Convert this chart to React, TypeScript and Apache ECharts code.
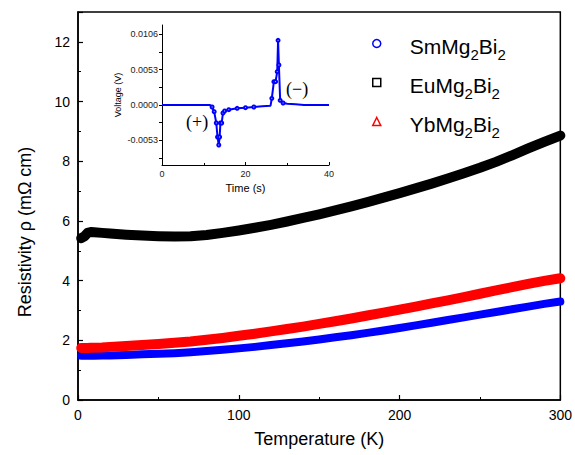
import React, { useEffect, useRef } from "react";
import * as echarts from "echarts";

const temperature = [2, 4, 6, 8, 10, 15, 20, 30, 40, 50, 60, 70, 80, 90, 100, 110, 120, 130, 140, 150, 160, 170, 180, 190, 200, 210, 220, 230, 240, 250, 260, 270, 280, 290, 300];
const smValues = [1.48, 1.48, 1.48, 1.48, 1.48, 1.49, 1.49, 1.51, 1.53, 1.55, 1.57, 1.6, 1.64, 1.68, 1.73, 1.78, 1.84, 1.9, 1.96, 2.03, 2.1, 2.17, 2.25, 2.33, 2.41, 2.5, 2.59, 2.68, 2.77, 2.86, 2.95, 3.04, 3.13, 3.22, 3.3];
const euValues = [5.42, 5.48, 5.6, 5.63, 5.62, 5.6, 5.58, 5.54, 5.51, 5.49, 5.48, 5.49, 5.53, 5.6, 5.68, 5.77, 5.87, 5.98, 6.1, 6.22, 6.35, 6.49, 6.63, 6.78, 6.93, 7.09, 7.25, 7.42, 7.6, 7.78, 7.98, 8.2, 8.43, 8.65, 8.86];
const ybValues = [1.74, 1.74, 1.74, 1.75, 1.75, 1.76, 1.78, 1.81, 1.84, 1.88, 1.92, 1.96, 2.02, 2.08, 2.15, 2.22, 2.3, 2.38, 2.46, 2.55, 2.64, 2.73, 2.83, 2.93, 3.03, 3.13, 3.24, 3.34, 3.45, 3.56, 3.67, 3.78, 3.89, 3.99, 4.08];

const seriesNames = ["SmMg2Bi2", "EuMg2Bi2", "YbMg2Bi2"];
const seriesColors = ["#0000ff", "#000000", "#ff0000"];
const legendIcons = ["circle", "rect", "triangle"];

const insetTime = [0, 5, 10, 11.5, 12, 12.5, 13, 13.3, 13.6, 13.8, 14, 14.3, 14.6, 15, 16, 18, 20, 22, 24, 26, 26.3, 26.8, 27.2, 27.6, 27.8, 28, 28.3, 29, 30, 32, 34, 40];
const insetVoltage = [0, 0, 0, 0, -0.0003, -0.001, -0.0027, -0.0048, -0.006, -0.0048, -0.0027, -0.0027, -0.0012, -0.0009, -0.0007, -0.0005, -0.0004, -0.0003, -0.0002, -0.0001, 0.001, 0.0035, 0.0035, 0.005, 0.0097, 0.006, 0.0007, 0.0003, 0.0002, 0.0001, 0, 0];
const insetTickLabels = [-0.0053, 0, 0.0053, 0.0106];
const insetMinorTicks = [-0.00795, -0.00265, 0.00265, 0.00795];

const FONT = "'Liberation Sans', Arial, sans-serif";
const SERIF = "'Liberation Serif', 'Times New Roman', serif";

const pair = (xs: number[], ys: number[]) => xs.map((x, i) => [x, ys[i]]);

export default function App() {
  const ref = useRef<HTMLDivElement>(null);
  useEffect(() => {
    if (!ref.current) return;
    const chart = echarts.init(ref.current, undefined, { renderer: "svg" });
    const mainValues = [smValues, euValues, ybValues];
    const widths = [8, 10, 10];
    const option: any = {
      animation: false,
      backgroundColor: "#ffffff",
      grid: [
        { left: 78, top: 12, right: 12, bottom: 55, show: true, borderColor: "#000", borderWidth: 1.5, backgroundColor: "transparent" },
        { left: 162, top: 25, width: 167, height: 140 },
      ],
      legend: {
        orient: "vertical",
        left: 367,
        top: 28,
        itemWidth: 8,
        itemHeight: 8,
        itemGap: 10,
        selectedMode: false,
        data: seriesNames.map((n, i) => ({
          name: n,
          icon: legendIcons[i],
          itemStyle: { color: "transparent", borderColor: seriesColors[i], borderWidth: 1.5 },
        })),
        formatter: (name: string) => {
          const base = name.replace("Mg2Bi2", "");
          return `{a|${base}Mg}{b|2}{a|Bi}{b|2}`;
        },
        textStyle: {
          padding: [0, 0, 0, 24],
          rich: {
            a: { fontSize: 21, fontFamily: FONT, color: "#000", lineHeight: 21, verticalAlign: "top", padding: [3, 0, 0, 0] },
            b: { fontSize: 15, fontFamily: FONT, color: "#000", lineHeight: 15, verticalAlign: "top", padding: [14, 0, 0, 0] },
          },
        },
      },
      xAxis: [
        {
          type: "value",
          gridIndex: 0,
          min: 0,
          max: 300,
          interval: 100,
          name: "Temperature (K)",
          nameLocation: "middle",
          nameGap: 30,
          nameTextStyle: { fontSize: 18, fontFamily: FONT, color: "#000" },
          axisLine: { lineStyle: { color: "#000", width: 1.5 } },
          axisTick: { inside: true, length: 5, lineStyle: { color: "#000", width: 1.2 } },
          minorTick: { show: true, splitNumber: 2, length: 3, lineStyle: { color: "#000", width: 1 } },
          axisLabel: { fontSize: 14, fontFamily: FONT, color: "#000", margin: 8 },
          splitLine: { show: false },
        },
        {
          type: "value",
          gridIndex: 1,
          min: 0,
          max: 40,
          interval: 20,
          name: "Time (s)",
          nameLocation: "middle",
          nameGap: 17,
          nameTextStyle: { fontSize: 11, fontFamily: FONT, color: "#000" },
          axisLine: { onZero: false, lineStyle: { color: "#000", width: 1 } },
          axisTick: { inside: true, length: 3, lineStyle: { color: "#000" } },
          minorTick: { show: true, splitNumber: 2, length: 2, lineStyle: { color: "#000" } },
          axisLabel: { fontSize: 9, fontFamily: FONT, color: "#222", margin: 4 },
          splitLine: { show: false },
        },
      ],
      yAxis: [
        {
          type: "value",
          gridIndex: 0,
          min: 0,
          max: 13,
          interval: 2,
          name: "Resistivity ρ (mΩ cm)",
          nameLocation: "middle",
          nameGap: 44,
          nameTextStyle: { fontSize: 18, fontFamily: FONT, color: "#000", padding: [0, 52, 0, 0] },
          axisLine: { lineStyle: { color: "#000", width: 1.5 } },
          axisTick: { inside: true, length: 5, lineStyle: { color: "#000", width: 1.2 } },
          minorTick: { show: true, splitNumber: 2, length: 3, lineStyle: { color: "#000", width: 1 } },
          axisLabel: { fontSize: 14, fontFamily: FONT, color: "#000", margin: 8, showMaxLabel: false },
          splitLine: { show: false },
        },
        {
          type: "value",
          gridIndex: 1,
          min: -0.009,
          max: 0.012,
          name: "Voltage (V)",
          nameLocation: "middle",
          nameGap: 40,
          nameTextStyle: { fontSize: 9, fontFamily: FONT, color: "#000" },
          axisLine: { onZero: false, lineStyle: { color: "#000", width: 1 } },
          axisTick: {
            show: true,
            length: 3,
            customValues: [...insetTickLabels, ...insetMinorTicks],
            lineStyle: { color: "#000" },
          },
          axisLabel: {
            fontSize: 9,
            fontFamily: FONT,
            color: "#222",
            margin: 4,
            customValues: insetTickLabels,
            formatter: (v: number) => v.toFixed(4),
          },
          splitLine: { show: false },
        },
      ],
      series: [
        ...seriesNames.map((n, i) => ({
          name: n,
          type: "line",
          xAxisIndex: 0,
          yAxisIndex: 0,
          data: pair(temperature, mainValues[i]),
          showSymbol: false,
          symbol: "none",
          lineStyle: { color: seriesColors[i], width: widths[i], cap: "round", join: "round" },
          itemStyle: { color: seriesColors[i] },
          z: 2 + i,
        })),
        {
          name: "Voltage",
          type: "line",
          xAxisIndex: 1,
          yAxisIndex: 1,
          data: pair(insetTime, insetVoltage),
          symbol: "emptyCircle",
          symbolSize: (v: number[]) => (Math.abs(v[1]) > 0.00025 ? 3 : 0),
          showSymbol: true,
          lineStyle: { color: "#0000ff", width: 2 },
          itemStyle: { color: "#0000ff", borderColor: "#0000ff", borderWidth: 1 },
          z: 10,
        },
      ],
      graphic: [
        { type: "text", left: 186, top: 113, style: { text: "(+)", fontSize: 18, fontFamily: SERIF, fill: "#000" } },
        { type: "text", left: 286, top: 80, style: { text: "(\u2212)", fontSize: 18, fontFamily: SERIF, fill: "#000" } },
      ],
    };
    chart.setOption(option);
    return () => chart.dispose();
  }, []);
  return <div ref={ref} style={{ position: "fixed", left: 0, top: 0, width: 575, height: 455 }} />;
}
